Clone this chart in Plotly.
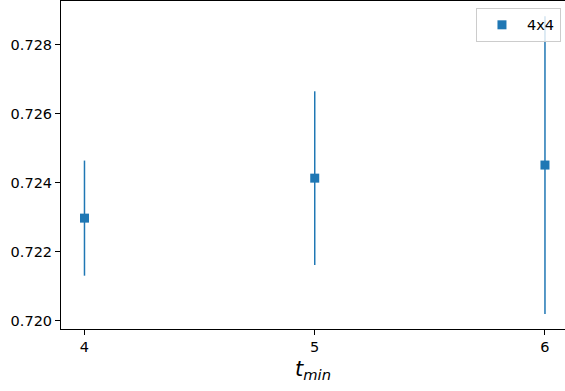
import plotly.graph_objects as go

# Fit results vs. minimum fit time
t_min = [4, 5, 6]
values = [0.72297, 0.72413, 0.72451]
errors = [0.00167, 0.00252, 0.00432]
series_name = "4x4"

x_ticks = [4, 5, 6]
y_ticks = [0.720, 0.722, 0.724, 0.726, 0.728]

blue = "#1f77b4"
font = "DejaVu Sans"

fig = go.Figure()
fig.add_trace(go.Scatter(
    x=t_min, y=values, mode="markers", name=series_name,
    marker=dict(symbol="square", size=9, color=blue),
    error_y=dict(type="data", array=errors, visible=True,
                 color=blue, thickness=1.5, width=0),
))

fig.update_layout(
    width=565, height=391,
    margin=dict(l=61, r=0, t=1, b=62),
    paper_bgcolor="white", plot_bgcolor="white",
    font=dict(family=font, size=14.5, color="black"),
    showlegend=True,
    legend=dict(
        x=0.992, y=0.979, xanchor="right", yanchor="top",
        bgcolor="rgba(255,255,255,0.8)", bordercolor="#cccccc", borderwidth=1,
        font=dict(family=font, size=14.5, color="black"),
        itemwidth=40,
    ),
    xaxis=dict(
        range=[3.898, 6.087], tickvals=x_ticks, ticktext=[str(v) for v in x_ticks],
        showgrid=False, zeroline=False,
        showline=True, linecolor="black", linewidth=1, mirror=True,
        ticks="outside", ticklen=5, tickwidth=1, tickcolor="black",
        title=dict(text="<i>t</i><sub><i>min</i></sub>", standoff=6,
                   font=dict(family=font, size=21)),
    ),
    yaxis=dict(
        range=[0.719753, 0.72927], tickvals=y_ticks,
        ticktext=[f"{v:.3f}" for v in y_ticks],
        showgrid=False, zeroline=False,
        showline=True, linecolor="black", linewidth=1, mirror=False,
        ticks="outside", ticklen=5, tickwidth=1, tickcolor="black",
    ),
)

fig.write_html("out.html")
